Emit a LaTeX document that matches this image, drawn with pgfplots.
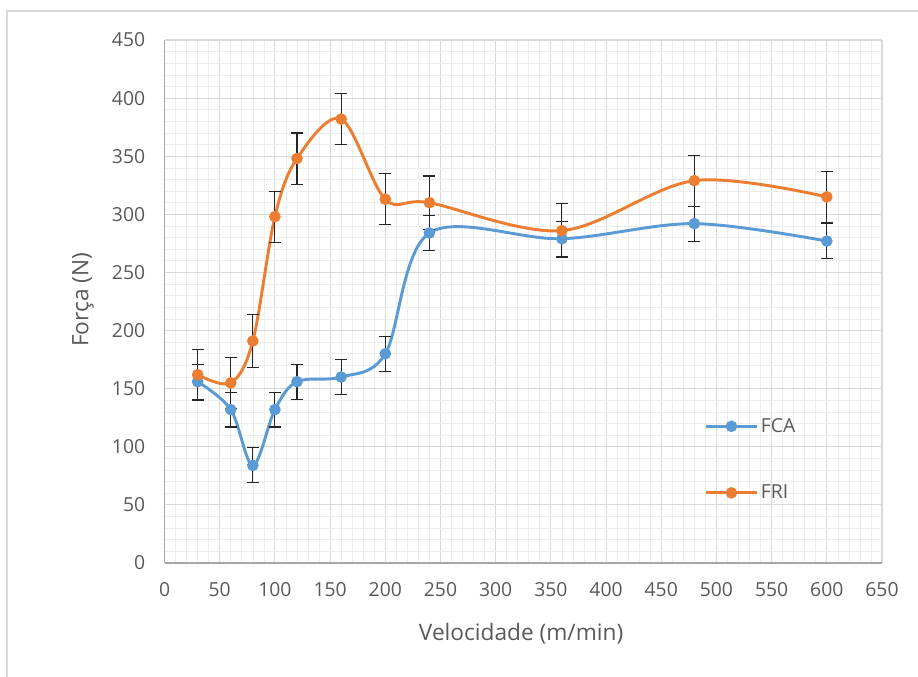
\documentclass[border=0pt]{standalone}
\usepackage{fontspec}
\setmainfont{Open Sans}
\usepackage{pgfplots}
\pgfplotsset{compat=1.18}
\definecolor{fcablue}{HTML}{5B9BD5}
\definecolor{frorange}{HTML}{ED7D31}
\definecolor{txtgray}{HTML}{595959}
\definecolor{majgrid}{HTML}{D9D9D9}
\definecolor{mingrid}{HTML}{EDEDED}
\definecolor{axgray}{HTML}{A6A6A6}
\begin{document}
\begin{tikzpicture}
\useasboundingbox (0,0) rectangle (688.5pt,507.75pt);
\draw[majgrid, line width=0.8pt] (5.25pt,0pt) -- (5.25pt,499.5pt) -- (688.5pt,499.5pt);
\begin{axis}[
  at={(123.4pt,85.5pt)}, anchor=south west,
  scale only axis, width=538.1pt, height=392.25pt,
  xmin=0, xmax=650, ymin=0, ymax=450,
  xtick={0,50,...,650}, ytick={0,50,...,450},
  minor x tick num=4, minor y tick num=4,
  grid=both,
  major grid style={majgrid, line width=0.8pt},
  minor grid style={mingrid, line width=0.5pt},
  axis x line=bottom, axis y line=left,
  axis line style={draw=axgray, line width=0.9pt, -},
  major tick length=0pt, minor tick length=0pt,
  /pgf/number format/assume math mode=true,
  ticklabel style={font=\fontsize{14.5}{16}\selectfont, text=txtgray},
  xticklabel style={yshift=-11pt},
  yticklabel style={xshift=-11pt},
  xlabel={Velocidade (m/min)}, ylabel={Força (N)},
  label style={font=\fontsize{17}{19}\selectfont, text=txtgray},
  xlabel style={at={(axis description cs:0.497,-0.1358)}, anchor=center},
  ylabel style={at={(axis description cs:-0.1136,0.503)}, anchor=center},
  legend style={draw=none, fill=none, at={(axis cs:489,89)}, anchor=west,
    font=\fontsize{14.5}{16}\selectfont, text=txtgray, row sep=34pt, inner sep=0pt},
  legend cell align=left,
  legend image code/.code={\draw[mark repeat=2, mark phase=2, #1] plot coordinates {(0cm,0cm) (0.67cm,0cm) (1.34cm,0cm)};},
  error bars/error bar style={black!85, line width=0.8pt},
  error bars/error mark options={rotate=90, black!85, mark size=4.5pt, line width=0.8pt},
]
% FCA
\addplot[fcablue, line width=2.2pt, smooth, tension=0.55, mark=*, mark size=3.2pt,
  mark options={fill=fcablue, draw=fcablue},
  error bars/.cd, y dir=both, y explicit]
  coordinates {
  (30,156) +- (0,15)
  (60,132) +- (0,15)
  (80,84) +- (0,15)
  (100,132) +- (0,15)
  (120,156) +- (0,15)
  (160,160) +- (0,15)
  (200,180) +- (0,15)
  (240,284) +- (0,15)
  (360,279) +- (0,15)
  (480,292) +- (0,15)
  (600,277) +- (0,15)
  };
\addlegendentry{FCA}
% FRI
\addplot[frorange, line width=2.2pt, smooth, tension=0.55, mark=*, mark size=3.2pt,
  mark options={fill=frorange, draw=frorange},
  error bars/.cd, y dir=both, y explicit]
  coordinates {
  (30,162) +- (0,22)
  (60,155) +- (0,22)
  (80,191) +- (0,23)
  (100,298) +- (0,22)
  (120,348) +- (0,22)
  (160,382) +- (0,22)
  (200,313) +- (0,22)
  (240,310) +- (0,23)
  (360,286) +- (0,23)
  (480,329) +- (0,22)
  (600,315) +- (0,22)
  };
\addlegendentry{FRI}
\end{axis}
\end{tikzpicture}
\end{document}
